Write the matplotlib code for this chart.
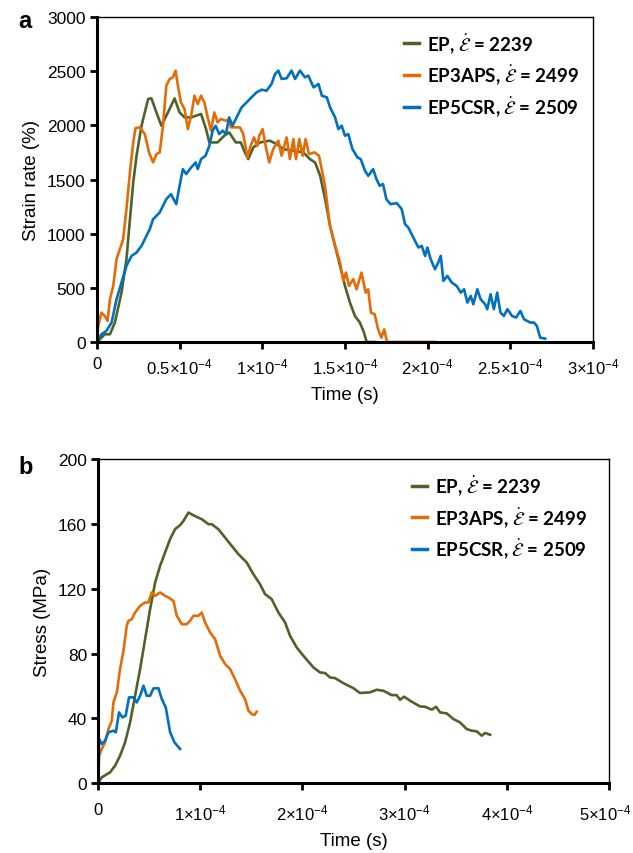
import matplotlib
matplotlib.use("Agg")
import matplotlib.pyplot as plt
import matplotlib.transforms as mtransforms
import numpy as np

plt.rcParams['font.family'] = ['Liberation Sans', 'DejaVu Sans']
plt.rcParams['mathtext.fontset'] = 'custom'
plt.rcParams['mathtext.rm'] = 'Liberation Sans'
plt.rcParams['mathtext.it'] = 'Liberation Sans:italic'
plt.rcParams['mathtext.bf'] = 'Liberation Sans:bold'

# ---------------- data (time in microseconds) ----------------
series_names = ['EP', 'EP3APS', 'EP5CSR']
rate_labels = ['2239', '2499', '2509']
colors = ['#4F6228', '#E36C09', '#0070C0']

# Panel a: strain rate (%)
ep_a_t = [0, 4.8, 7.9, 10.9, 14.9, 17.9, 20, 22, 24, 27, 31, 33, 36, 39, 43, 47, 50, 53, 57, 63, 66, 68,
          73, 77, 80, 84, 87, 89.5, 91.5, 94.6, 98.6, 104.6, 108.7, 112.7, 118.8, 124.8, 128.8, 131.9,
          135, 138, 141, 144, 147, 150, 153, 156, 159, 161.5, 163.1, 168.2]
ep_a_v = [0, 74, 74, 182, 458, 766, 1135, 1474, 1720, 1997, 2243, 2249, 2120, 1997, 2120, 2249, 2120,
          2074, 2074, 2105, 1966, 1843, 1843, 1905, 1935, 1843, 1843, 1751, 1689, 1797, 1843, 1859,
          1828, 1782, 1766, 1751, 1689, 1659, 1535, 1320, 1074, 889, 705, 520, 366, 243, 182, 89, 3, 3]

aps_a_t = [0, 0.8, 2.8, 4.8, 6.5, 7.9, 9.9, 11.9, 13.9, 15.9, 17.9, 20, 22, 23.4, 26, 29, 31.5, 34, 36,
           38, 40, 42, 44, 46, 47.6, 49, 50.8, 53, 55, 57, 59, 61, 63, 65, 67, 69, 71, 73, 75, 78, 80,
           81, 84.5, 86.5, 88.5, 91, 93, 95, 96.9, 98.2, 100.2, 102.2, 104.2, 106.6, 109.7, 111.7,
           114.7, 116.7, 118.8, 120.4, 122.4, 124.4, 126.2, 128.2, 131.6, 134.3, 137.9, 140.9, 144,
           147, 149, 150.6, 152.4, 155, 157, 160, 162.5, 164, 165.7, 168, 170, 172, 173.7, 175.4,
           184, 204]
aps_a_v = [0, 150, 274, 243, 197, 397, 520, 766, 858, 951, 1228, 1566, 1843, 1975, 1982, 1920, 1751,
           1659, 1735, 1751, 1997, 2366, 2428, 2443, 2505, 2366, 2212, 2151, 1966, 2089, 2274, 2197,
           2274, 2212, 2074, 1951, 2120, 2028, 2059, 2043, 2059, 1982, 1982, 1982, 1920, 1705, 1812,
           1889, 1812, 1905, 1966, 1797, 1659, 1782, 1859, 1720, 1889, 1689, 1874, 1689, 1874, 1720,
           1874, 1735, 1751, 1720, 1443, 1074, 889, 735, 566, 643, 520, 582, 489, 643, 458, 489, 274,
           258, 120, 43, 120, 3, 3, 3]

csr_a_t = [0, 2.8, 5.8, 8.9, 11.9, 14.9, 17.9, 21, 24, 27, 30, 32, 34, 36, 38, 40, 42, 44.8, 46.4, 48,
           50, 52, 54, 57, 59.7, 61, 63, 65.7, 68, 70, 71.8, 74, 76, 78, 80, 82, 84.5, 87.5, 90.5, 93.5,
           96.6, 99.6, 102.6, 105.6, 107.7, 109.7, 111.7, 114.7, 117.7, 119.8, 122.8, 125.8, 127.8,
           131, 134, 136, 139, 141, 144, 146, 148, 150, 152, 154.5, 157.5, 159.5, 162.1, 164.1, 167,
           169, 171, 173, 175, 177.5, 181.3, 184.3, 186.3, 188.3, 191.3, 194.4, 196.4, 198.4, 199.8,
           201.8, 204.4, 206.4, 207.9, 209.5, 211.9, 214.5, 217.5, 220, 222, 224, 226, 227.6, 230,
           232, 234.7, 236, 238, 240, 242, 244, 246, 248.2, 251, 253.4, 256, 258.3, 262, 264.3, 266,
           268, 271]
csr_a_v = [0, 74, 105, 182, 397, 551, 705, 797, 828, 889, 982, 1043, 1135, 1166, 1197, 1259, 1320,
           1366, 1320, 1274, 1443, 1597, 1551, 1612, 1658, 1597, 1689, 1720, 1812, 1951, 1997, 1920,
           1951, 1920, 2074, 1997, 2074, 2166, 2212, 2259, 2305, 2329, 2320, 2382, 2474, 2505, 2428,
           2434, 2505, 2428, 2505, 2443, 2459, 2351, 2382, 2274, 2259, 2166, 2074, 1966, 1997, 1905,
           1920, 1782, 1705, 1689, 1582, 1535, 1597, 1505, 1443, 1459, 1320, 1274, 1283, 1228, 1089,
           1058, 966, 874, 889, 797, 874, 766, 674, 735, 797, 566, 612, 551, 520, 458, 489, 366, 428,
           351, 489, 397, 351, 305, 443, 305, 458, 274, 243, 305, 243, 228, 289, 212, 182, 182, 151,
           43, 34]

# Panel b: stress (MPa)
ep_b_t = [0, 3.6, 11.7, 16.6, 21.5, 26.4, 31.3, 36.2, 41.1, 46, 50.9, 55.8, 60.7, 65.5, 70.4, 75.3,
          80.2, 83.5, 88.4, 93.3, 101.4, 108, 111.2, 117.7, 124.3, 130.8, 137.3, 145.5, 152, 158.5,
          163.4, 169.9, 176.5, 183, 187.9, 194.4, 200.9, 210.7, 217.2, 222.1, 227, 231.9, 240, 249.8,
          256.3, 266.1, 272.6, 279.2, 287.3, 292.2, 295.5, 299.5, 307, 315.1, 320, 326.6, 330.8,
          334.7, 341.2, 347.8, 354.3, 360.8, 365.7, 370.6, 375.5, 378.8, 383.7]
ep_b_v = [0, 3.5, 6.6, 10.7, 16.9, 25.1, 37.4, 53.9, 70.4, 88.9, 107.4, 123.9, 134.2, 142.4, 150.6,
          156.8, 159.3, 161.9, 167.1, 165.4, 163, 159.9, 159.9, 156.8, 151.6, 146.5, 141.4, 136.2,
          129, 122.8, 116.7, 113.6, 105.3, 99.2, 90.9, 83.7, 78.6, 71.4, 68.3, 67.9, 65.2, 64.8,
          61.7, 58.6, 55.6, 56, 57.6, 57, 54.3, 54.3, 51.4, 53.3, 50.2, 47.3, 47.1, 45.3, 47.1,
          43.6, 43, 39.5, 37.4, 33.3, 32.3, 31.9, 29.2, 30.9, 29.8]

aps_b_t = [0, 1, 3.6, 6.8, 10.1, 13.4, 15, 18.3, 21.5, 24.8, 28, 29.7, 32.9, 36.2, 41.1, 46, 49.2,
           52.5, 55.8, 60.7, 65.6, 68.8, 73.7, 77, 81.9, 86.8, 90, 93.3, 98.2, 101.4, 104.7, 109.6,
           114.5, 119.4, 124.3, 129.2, 134, 139, 143.8, 147.1, 150.4, 153, 155.2]
aps_b_v = [0, 16.9, 21, 25.1, 33.3, 38.5, 49.8, 56, 70.4, 81.7, 97.1, 100.2, 101.2, 105.3, 109.5,
           111.5, 111.5, 117.7, 115.6, 117.7, 115.6, 114.6, 112.6, 103.3, 98.1, 98.1, 100.2, 103.3,
           103.3, 105.3, 99.2, 93, 88.9, 78.6, 73.5, 70.4, 64.2, 57, 51.9, 44.7, 42.6, 42, 44]

csr_b_t = [0, 1, 3.6, 6.8, 10.1, 15, 17.3, 20.5, 23.8, 27, 30.3, 34.6, 37.8, 41.1, 44.4, 47.6, 50.9,
           54.1, 59, 62.3, 66.2, 70.5, 74.7, 80.2]
csr_b_v = [0, 27.2, 24.1, 26.1, 31.3, 32.3, 31.3, 43.6, 40.5, 41.6, 52.9, 52.9, 49.8, 53.9, 60.1,
           53.9, 53.9, 58.4, 58.6, 51.9, 46.7, 31.3, 25.1, 21]

xticks_a = [0, 50, 100, 150, 200, 250, 300]
xticklabels_a = ['0', '0.5×10$^{-4}$', '1×10$^{-4}$', '1.5×10$^{-4}$', '2×10$^{-4}$',
                 '2.5×10$^{-4}$', '3×10$^{-4}$']
yticks_a = [0, 500, 1000, 1500, 2000, 2500, 3000]
xticks_b = [0, 100, 200, 300, 400, 500]
xticklabels_b = ['0', '1×10$^{-4}$', '2×10$^{-4}$', '3×10$^{-4}$', '4×10$^{-4}$', '5×10$^{-4}$']
yticks_b = [0, 40, 80, 120, 160, 200]

US = 1e-6

fig = plt.figure(figsize=(6.33, 8.54), dpi=100)
ax_a = fig.add_axes([0.153, 0.598, 0.784, 0.381])
ax_b = fig.add_axes([0.155, 0.082, 0.807, 0.379])


def style(ax, xticks, xlabels, yticks, ylabel, xmax, ymax, xpad):
    for side in ['left', 'bottom']:
        ax.spines[side].set_linewidth(2.2)
    for side in ['top', 'right']:
        ax.spines[side].set_linewidth(1.0)
    ax.set_xlim(0, xmax * US)
    ax.set_ylim(0, ymax)
    ax.set_xticks([v * US for v in xticks])
    ax.set_xticklabels(xlabels)
    ax.set_yticks(yticks)
    ax.tick_params(axis='both', direction='out', length=5, width=2, labelsize=12.5, pad=3)
    ax.tick_params(axis='x', pad=xpad, labelsize=12)
    ax.set_xlabel('Time (s)', fontsize=13.5, labelpad=7)
    ax.set_ylabel(ylabel, fontsize=13.5, labelpad=5)


lw = 1.9
panel_a = [(ep_a_t, ep_a_v), (aps_a_t, aps_a_v), (csr_a_t, csr_a_v)]
panel_b = [(ep_b_t, ep_b_v), (aps_b_t, aps_b_v), (csr_b_t, csr_b_v)]

for ax, panel in [(ax_a, panel_a), (ax_b, panel_b)]:
    for (t, v), name, rate, c in zip(panel, series_names, rate_labels, colors):
        ax.plot(np.array(t) * US, v, color=c, lw=lw, solid_joinstyle='round',
                label=name + r', $\dot{\mathcal{E}}$ = ' + rate)

style(ax_a, xticks_a, xticklabels_a, yticks_a, 'Strain rate (%)', 300, 3000, 5)
style(ax_b, xticks_b, xticklabels_b, yticks_b, 'Stress (MPa)', 500, 200, 9)

# keep the last bottom tick label inside the canvas
last = ax_b.get_xticklabels()[-1]
last.set_transform(last.get_transform() +
                   mtransforms.ScaledTranslation(-4 / 100, 0, fig.dpi_scale_trans))

for ax, anchor in [(ax_a, (1.0, 1.0)), (ax_b, (0.985, 1.0))]:
    leg = ax.legend(loc='upper right', bbox_to_anchor=anchor, frameon=False,
                    prop={'family': 'Lato', 'weight': 'bold', 'size': 13.5},
                    handlelength=0.8, handletextpad=0.45, labelspacing=0.42,
                    borderaxespad=0.35)
    for txt in leg.get_texts():
        txt.set_math_fontfamily('stix')
    for h in leg.get_lines():
        h.set_linewidth(2.5)

fig.text(18 / 633, 1 - 22 / 854, 'a', fontsize=17, fontweight='bold', va='center', ha='left')
fig.text(18 / 633, 1 - 468 / 854, 'b', fontsize=17, fontweight='bold', va='center', ha='left')

fig.savefig('out.png', dpi=100)
